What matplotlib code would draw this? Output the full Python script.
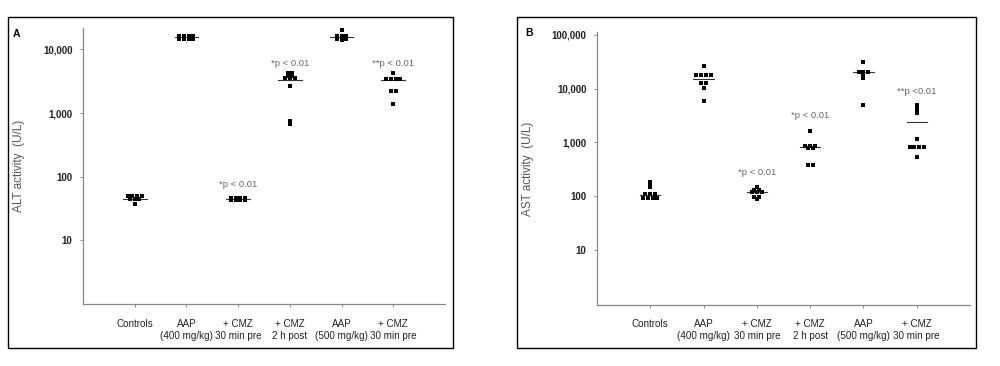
import numpy as np
import matplotlib.pyplot as plt
from matplotlib.patches import Rectangle

plt.rcParams['font.family'] = ['Liberation Sans', 'DejaVu Sans']

groups = ["Controls", "AAP\n(400 mg/kg)", "+ CMZ\n30 min pre", "+ CMZ\n2 h post",
          "AAP\n(500 mg/kg)", "+ CMZ\n30 min pre"]

# ALT (U/L), panel A
alt_vals = [
    [49, 49, 49, 49, 45, 45, 45, 38],
    [16500, 16500, 16500, 16500, 14800, 14800, 14800, 14800],
    [47, 47, 47, 47, 43, 43, 43, 43],
    [4300, 4300, 3800, 3800, 3500, 3500, 3500, 2650, 740, 680],
    [19800, 16200, 16200, 16200, 14800, 14800, 14800, 14000],
    [4200, 3400, 3400, 3400, 3400, 2200, 2200, 1380],
]
alt_line = [45, 15500, 45, 3300, 15500, 3300]
alt_notes = [(3, 75, "*p < 0.01"), (4, 6000, "*p < 0.01"), (6, 6000, "**p < 0.01")]

# AST (U/L), panel B
ast_vals = [
    [180, 155, 150, 108, 108, 108, 92, 92, 92, 92],
    [26000, 18000, 18000, 18000, 18000, 13000, 13000, 10500, 6000],
    [150, 130, 130, 120, 120, 120, 95, 95, 88],
    [1650, 850, 850, 850, 780, 780, 380, 380],
    [31500, 20500, 20500, 20500, 17500, 15800, 5000],
    [5000, 4400, 3800, 3500, 1150, 830, 830, 830, 830, 540],
]
ast_line = [105, 15000, 122, 830, 20500, 2400]
ast_notes = [(3, 280, "*p < 0.01"), (4, 3100, "*p < 0.01"), (6, 8700, "**p <0.01")]


def swarm(ax, pos, vals, step=0.09):
    # points with equal value go side by side
    uniq = sorted(set(vals), reverse=True)
    for v in uniq:
        n = vals.count(v)
        xs = pos + (np.arange(n) - (n - 1) / 2.) * step
        ax.scatter(xs, [v] * n, marker='s', s=5.5, color='black', linewidths=0, zorder=3)


def panel(ax, vals, line, notes, ylim, yticks, ylab, half):
    pos = np.arange(1, len(groups) + 1)
    for i in range(len(groups)):
        swarm(ax, pos[i], vals[i])
        ax.plot([pos[i] - half, pos[i] + half], [line[i], line[i]], color='#333333', lw=0.8, zorder=2)
    for g, v, t in notes:
        ax.text(g, v, t, ha='center', va='center', fontsize=6.8, color='#666666')
    ax.set_yscale('log')
    ax.set_ylim(ylim)
    ax.set_xlim(0, 7)
    ax.set_yticks(yticks)
    ax.set_yticklabels(["{:,}".format(t) for t in yticks], fontsize=7, fontweight='bold')
    ax.yaxis.set_minor_locator(plt.NullLocator())
    ax.set_xticks(pos)
    ax.set_xticklabels(groups, fontsize=7.1, linespacing=1.25)
    ax.set_ylabel(ylab, fontsize=8.5, color='#555555', labelpad=13)
    for s in ['top', 'right']:
        ax.spines[s].set_visible(False)
    for s in ['left', 'bottom']:
        ax.spines[s].set_color('#888888')
        ax.spines[s].set_linewidth(0.9)
    ax.tick_params(axis='both', colors='#888888', length=2.5, width=0.7)
    ax.tick_params(axis='x', pad=8)
    ax.tick_params(axis='y', pad=5)
    for lab in ax.get_yticklabels() + ax.get_xticklabels():
        lab.set_color('#222222')


fig = plt.figure(figsize=(10, 3.66), dpi=100)

axA = fig.add_axes([0.083, 0.169, 0.362, 0.754])
panel(axA, alt_vals, alt_line, alt_notes, (1, 21500), [10, 100, 1000, 10000],
      "ALT activity  (U/L)", 0.23)

axB = fig.add_axes([0.597, 0.167, 0.373, 0.746])
panel(axB, ast_vals, ast_line, ast_notes, (0.95, 114000), [10, 100, 1000, 10000, 100000],
      "AST activity  (U/L)", 0.19)

# panel frames
fig.add_artist(Rectangle((8 / 1000., 1 - 348 / 366.), 445 / 1000., 331 / 366.,
                         transform=fig.transFigure, fill=False, ec='black', lw=1))
fig.add_artist(Rectangle((517 / 1000., 1 - 348 / 366.), 459 / 1000., 331 / 366.,
                         transform=fig.transFigure, fill=False, ec='black', lw=1))
fig.text(0.013, 1 - 34 / 366., "A", fontsize=7.5, fontweight='bold', va='center')
fig.text(0.525, 1 - 33 / 366., "B", fontsize=7.5, fontweight='bold', va='center')

fig.savefig("out.png", dpi=100)
